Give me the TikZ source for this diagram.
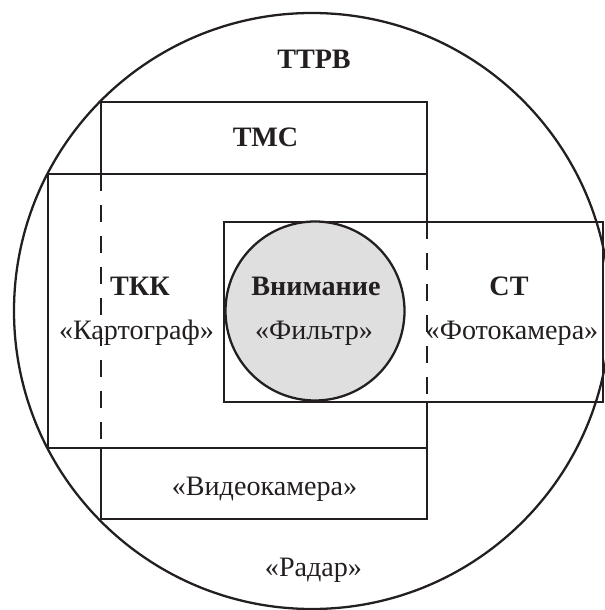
\documentclass[tikz,border=0pt]{standalone}
\usepackage{fontspec}
\setmainfont{Liberation Serif}
\definecolor{ink}{HTML}{231F20}

\begin{document}
\begin{tikzpicture}[line width=1.3pt,color=ink,
  headlbl/.style={anchor=base,font=\fontsize{16}{19}\selectfont\bfseries},
  namelbl/.style={anchor=base,font=\fontsize{16}{19}\selectfont},
  dashside/.style={dashed,dash pattern=on 0.34cm off 0.28cm}]
\useasboundingbox (0,0) rectangle (12.1,12.2);
\clip (0,0) rectangle (12.1,12.2);

\draw (6.24,5.98) circle (5.96);

\draw (8.54,7.76) -- (8.54,8.72) -- (0.96,8.72) -- (0.96,3.24) -- (8.54,3.24) -- (8.54,4.16);
\draw (4.48,4.16) rectangle (12.06,7.76);
\draw[fill=gray!25] (6.30,5.98) circle (1.79);

\draw (2.02,8.72) -- (2.02,10.16) -- (8.54,10.16) -- (8.54,7.76);
\draw (2.02,3.24) -- (2.02,1.82) -- (8.54,1.82) -- (8.54,4.16);
\draw[dashside] (2.02,8.72) -- (2.02,3.24);
\draw[dashside] (8.54,7.76) -- (8.54,4.16);

\node[headlbl] (ttrv) at (6.28,10.83) {ТТРВ};
\node[headlbl] (tms) at (5.31,9.27) {ТМС};
\node[headlbl] (tkk) at (2.80,6.29) {ТКК};
\node[headlbl] (vnim) at (6.32,6.29) {Внимание};
\node[headlbl] (st) at (10.18,6.29) {СТ};

\node[namelbl] (kart) at (2.73,5.40) {«Картограф»};
\node[namelbl] (filtr) at (6.28,5.40) {«Фильтр»};
\node[namelbl] (foto) at (10.24,5.40) {«Фотокамера»};
\node[namelbl] (video) at (5.29,2.28) {«Видеокамера»};
\node[namelbl] (radar) at (6.27,0.66) {«Радар»};

\end{tikzpicture}
\end{document}
